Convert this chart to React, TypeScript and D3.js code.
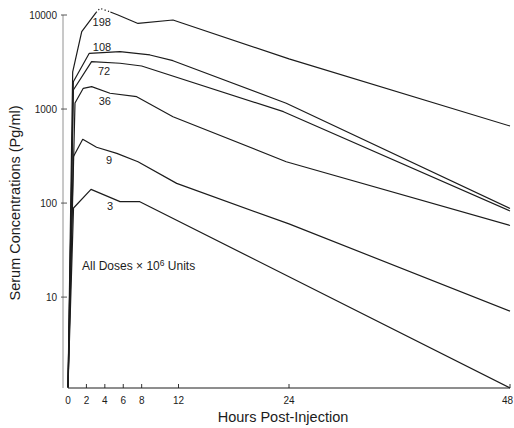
import React from "react";
import * as d3 from "d3";

// Tick values
const hourTicks = [0, 2, 4, 6, 8, 12, 24, 48];
const concTicks = [10, 100, 1000, 10000];

// Series: dose (x10^6 units), times (h) and serum concentrations (pg/ml)
const doseNames = ["198", "108", "72", "36", "9", "3"];

const t198 = [0, 0.51, 1.49, 3.04, 3.47, 4.6, 5.43, 7.6, 11.4, 24, 48];
const v198 = [1.1, 2480, 6650, 10590, 11790, 10770, 10000, 8130, 8850, 3410, 660];
const dotted198 = [3, 5]; // index range drawn dotted

const t108 = [0, 0.58, 2.31, 5.65, 8.9, 11.4, 23.7, 48];
const v108 = [1.1, 1954, 3917, 4074, 3758, 3267, 1151, 87.6];

const t72 = [0, 0.58, 2.56, 5.65, 8.0, 23.4, 48];
const v72 = [1.1, 1595, 3190, 3067, 2870, 937, 82.4];

const t36 = [0, 0.76, 1.66, 2.57, 4.56, 7.46, 11.4, 23.7, 48];
const v36 = [1.1, 1160, 1662, 1729, 1471, 1353, 829, 275, 57.8];

const t9 = [0, 0.58, 1.6, 3.1, 5.3, 7.6, 11.8, 24, 48];
const v9 = [1.1, 311, 477, 392, 338, 275, 162, 60, 7.1];

const t3 = [0, 0.6, 2.5, 5.65, 7.8, 48];
const v3 = [1.1, 88.7, 140, 103.5, 103.5, 1.08];

const seriesTimes = [t198, t108, t72, t36, t9, t3];
const seriesValues = [v198, v108, v72, v36, v9, v3];

// Label anchor positions in data units
const labelT = [3.66, 3.69, 3.91, 4.0, 4.45, 4.56];
const labelV = [8300, 4570, 2540, 1220, 288, 93];

const W = 514;
const H = 428;
const FONT = "'Liberation Sans', Arial, Helvetica, sans-serif";
const INK = "#1c1c1c";

export default function App() {
  const x = d3.scaleLinear().domain([0, 48]).range([68, 510]);
  const y = d3.scaleLog().domain([1.08, 10000]).range([388, 15]);

  const line = d3
    .line<[number, number]>()
    .x((d) => x(d[0]))
    .y((d) => y(d[1]));

  const paths: { d: string; dotted: boolean }[] = [];
  seriesTimes.forEach((ts, si) => {
    const pts: [number, number][] = ts.map((t, i) => [t, seriesValues[si][i]]);
    if (si === 0) {
      const [a, b] = dotted198;
      paths.push({ d: line(pts.slice(0, a + 1)) || "", dotted: false });
      paths.push({ d: line(pts.slice(a, b + 1)) || "", dotted: true });
      paths.push({ d: line(pts.slice(b)) || "", dotted: false });
    } else {
      paths.push({ d: line(pts) || "", dotted: false });
    }
  });

  const axisY = y(1.08);
  const lastHour = hourTicks[hourTicks.length - 1];

  return (
    <svg
      width={W}
      height={H}
      viewBox={`0 0 ${W} ${H}`}
      style={{ position: "absolute", left: 0, top: 0, display: "block", background: "#fff" }}
      fontFamily={FONT}
    >
      <rect x={0} y={0} width={W} height={H} fill="#fff" />

      {/* Y axis */}
      <line x1={63} x2={63} y1={y(10000)} y2={axisY} stroke="#777" strokeWidth={0.8} />
      {concTicks.map((v) => (
        <g key={v}>
          <line x1={61} x2={67} y1={y(v)} y2={y(v)} stroke="#444" strokeWidth={0.9} />
          <text x={57} y={y(v)} dy="0.35em" textAnchor="end" fontSize={10} fill={INK}>
            {v}
          </text>
        </g>
      ))}

      {/* X axis */}
      <line x1={x(0)} x2={x(48)} y1={axisY} y2={axisY} stroke={INK} strokeWidth={1} />
      {hourTicks.map((h) => (
        <g key={h}>
          <line x1={x(h)} x2={x(h)} y1={axisY} y2={axisY - 4} stroke={INK} strokeWidth={0.9} />
          <text
            x={h === lastHour ? W - 1 : x(h)}
            y={403.5}
            textAnchor={h === lastHour ? "end" : "middle"}
            fontSize={10}
            fill={INK}
          >
            {h}
          </text>
        </g>
      ))}

      {/* Curves */}
      {paths.map((p, i) => (
        <path
          key={i}
          d={p.d}
          fill="none"
          stroke={INK}
          strokeWidth={1.2}
          strokeLinejoin="round"
          strokeDasharray={p.dotted ? "1.2 2.4" : undefined}
        />
      ))}

      {/* Dose labels */}
      {doseNames.map((n, i) => (
        <text
          key={n}
          x={x(labelT[i])}
          y={y(labelV[i])}
          dy="0.35em"
          textAnchor="middle"
          fontSize={11}
          fill={INK}
        >
          {n}
        </text>
      ))}

      {/* Annotation */}
      <text x={82} y={270} fontSize={12} fill={INK}>
        All Doses {"\u00d7"} 10
        <tspan dy={-4} fontSize={8.5}>6</tspan>
        <tspan dy={4}> Units</tspan>
      </text>

      {/* Axis titles */}
      <text x={283} y={422} textAnchor="middle" fontSize={14.5} fill={INK}>
        Hours Post-Injection
      </text>
      <text
        transform="translate(20,203) rotate(-90)"
        textAnchor="middle"
        fontSize={14.5}
        fill={INK}
      >
        Serum Concentrations (Pg/ml)
      </text>
    </svg>
  );
}
